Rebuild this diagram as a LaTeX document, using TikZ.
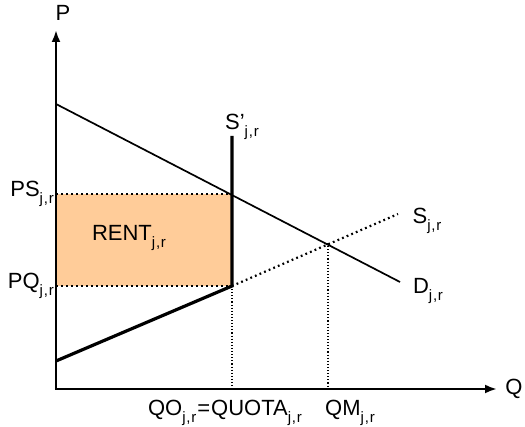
\documentclass[tikz,border=0pt]{standalone}
\usepackage{fontspec}
\setmainfont{Liberation Sans}
\usetikzlibrary{arrows.meta,positioning}
\definecolor{rentfill}{RGB}{255,204,153}
\newcommand{\jr}{\raisebox{-0.32em}{\fontsize{15}{15}\selectfont j\kern0.8pt,\kern0.8pt r}}

\begin{document}
\begin{tikzpicture}[
      x=1pt, y=-1pt,
      font=\fontsize{22}{25}\selectfont,
      axis/.style={line width=2.5pt, -{Latex[length=12pt,width=9pt]}},
      curve/.style={line width=1.7pt},
      thickcurve/.style={line width=3.2pt},
      guide/.style={line width=1.1pt, dotted},
      dotline/.style={line width=2.2pt, dash pattern=on 1.8pt off 3.2pt},
      lbl/.style={inner sep=1pt}
    ]
    \useasboundingbox (0,0) rectangle (525,427);
    % points
    \coordinate (o) at (56,389);
    \coordinate (ptop) at (56,30);
    \coordinate (qend) at (497,389);
    \coordinate (dstart) at (56,104);
    \coordinate (dend) at (400,282);
    \coordinate (sstart) at (56,361);
    \coordinate (kink) at (232,286);
    \coordinate (send) at (398,214);
    \coordinate (stop) at (232,136);
    \coordinate (ps) at (56,194);
    \coordinate (pscut) at (232,194);
    \coordinate (pq) at (56,286);
    \coordinate (qo) at (232,389);
    \coordinate (eq) at (328,243);
    \coordinate (qm) at (328,389);
    % rent area
    \fill[rentfill] (ps) rectangle (kink);
    \draw[dotline] (ps) -- (pscut);
    \draw[dotline] (pq) -- (kink);
    \draw[guide] (kink) -- (qo);
    \draw[guide] (eq) -- (qm);
    % curves
    \draw[curve] (dstart) -- (dend);
    \draw[dotline] (kink) -- (send);
    \draw[thickcurve, line join=miter] (sstart) -- (kink) -- (stop);
    % axes
    \draw[axis] (o) -- (ptop);
    \draw[axis] ([xshift=-1.25pt]o) -- (qend);
    % labels
    \node[lbl] (plab) at (63,13) {P};
    \node[lbl] (qlab) at (514,389) {Q};
    \node[lbl, left=1pt of ps] (pslab) {PS\jr};
    \node[lbl, left=1pt of pq] (pqlab) {PQ\jr};
    \node[lbl] (rent) at (129,238) {RENT\jr};
    \node[lbl] (sprime) at (242,127) {S'\jr};
    \node[lbl] (slab) at (427,221) {S\jr};
    \node[lbl] (dlab) at (428,291) {D\jr};
    \node[lbl] (quota) at (225,413) {QO\jr\kern1pt=\kern1pt QUOTA\jr};
    \node[lbl] (qmlab) at (350,413) {QM\jr};
  \end{tikzpicture}
\end{document}
